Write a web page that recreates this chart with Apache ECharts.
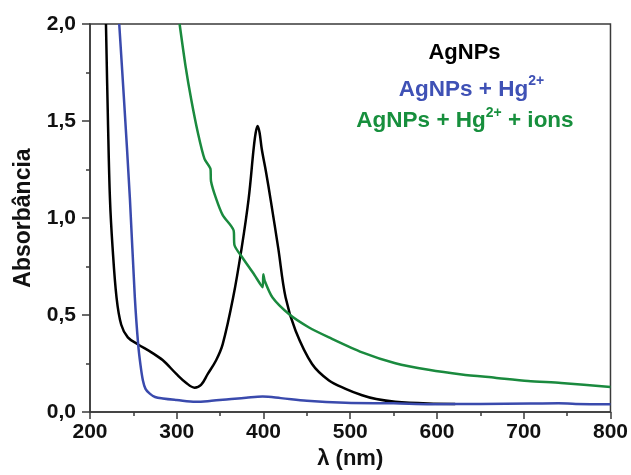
<!DOCTYPE html>
<html>
<head>
<meta charset="utf-8">
<script src="https://cdn.jsdelivr.net/npm/echarts@6/dist/echarts.min.js"></script>
<style>
html,body{margin:0;padding:0;background:#fff;}
#chart{width:631px;height:475px;}
</style>
</head>
<body>
<div id="chart"></div>
<script>
// Wavelength (nm) and absorbance readings
var agWl  = [218.4, 220.7, 223, 226, 230.6, 236, 243.6, 255, 270.8, 284, 299.5, 311, 320.5, 328, 335.8, 345.4, 353, 365, 374.8, 382.9, 388.6, 391, 393.2, 395.5, 398, 403, 408.4, 417, 425.5, 437, 456, 475.5, 494.6, 513.7, 530, 552, 590, 621];
var agAbs = [2.0, 1.5, 1.10, 0.85, 0.59, 0.45, 0.385, 0.35, 0.308, 0.267, 0.197, 0.15, 0.126, 0.14, 0.197, 0.267, 0.35, 0.59, 0.845, 1.10, 1.356, 1.44, 1.475, 1.44, 1.356, 1.235, 1.09, 0.845, 0.59, 0.419, 0.248, 0.163, 0.12, 0.087, 0.067, 0.053, 0.044, 0.042];

var hgWl  = [233.7, 239.2, 246, 251.7, 255.5, 258, 261, 264, 268.9, 275, 284, 300, 322, 340, 360, 380, 399, 420, 450, 494.5, 550, 594, 650, 708, 740, 760, 800];
var hgAbs = [2.0, 1.61, 1.10, 0.59, 0.35, 0.25, 0.163, 0.12, 0.095, 0.078, 0.07, 0.062, 0.053, 0.058, 0.066, 0.074, 0.08, 0.072, 0.058, 0.048, 0.045, 0.041, 0.042, 0.044, 0.046, 0.042, 0.041];

var ionWl  = [303.3, 310.2, 316.7, 324.3, 332, 338.9, 339.5, 345.4, 353, 365.5, 366.6, 376, 389.4, 399, 399.8, 401.5, 410.4, 429.6, 452.5, 475.5, 513.7, 552, 590.3, 628.5, 666.8, 705, 743, 800];
var ionAbs = [2.0, 1.781, 1.611, 1.441, 1.305, 1.253, 1.19, 1.10, 1.015, 0.937, 0.86, 0.794, 0.708, 0.644, 0.71, 0.675, 0.59, 0.504, 0.436, 0.385, 0.308, 0.252, 0.218, 0.194, 0.177, 0.160, 0.150, 0.129];

var xTicks = [200, 300, 400, 500, 600, 700, 800];
var yTicks = [0.0, 0.5, 1.0, 1.5, 2.0];

var seriesNames = ['AgNPs', 'AgNPs + Hg2+', 'AgNPs + Hg2+ + ions'];

function pairs(xs, ys) { return xs.map(function (x, i) { return [x, ys[i]]; }); }

var FONT = '"Liberation Sans", Arial, Helvetica, sans-serif';
var BLACK = '#000000', BLUE = '#3a4aad', GREEN = '#1a8a3e';
var BLUE_T = '#3f51b5', GREEN_T = '#178f3d';

var chart = echarts.init(document.getElementById('chart'), null, {renderer: 'canvas'});
chart.setOption({
  animation: false,
  backgroundColor: '#ffffff',
  grid: {left: 90, right: 18.5, top: 24, bottom: 59.5, show: true, borderColor: '#3a3a3a', borderWidth: 1.5, backgroundColor: 'transparent'},
  xAxis: {
    type: 'value', min: xTicks[0], max: xTicks[xTicks.length - 1], interval: 100,
    name: 'λ (nm)', nameLocation: 'middle', nameGap: 34,
    nameTextStyle: {fontFamily: FONT, fontWeight: 'bold', fontSize: 22, color: '#111'},
    axisLine: {show: true, lineStyle: {color: '#3a3a3a', width: 1.5}},
    axisTick: {show: true, inside: false, length: 7, lineStyle: {color: '#3a3a3a', width: 1.5}},
    minorTick: {show: true, splitNumber: 2, length: 4, lineStyle: {color: '#3a3a3a', width: 1.5}},
    splitLine: {show: false},
    axisLabel: {fontFamily: FONT, fontWeight: 'bold', fontSize: 21, color: '#111', margin: 10}
  },
  yAxis: {
    type: 'value', min: yTicks[0], max: yTicks[yTicks.length - 1], interval: 0.5,
    name: 'Absorbância', nameLocation: 'middle', nameGap: 55,
    nameTextStyle: {fontFamily: FONT, fontWeight: 'bold', fontSize: 23, color: '#111'},
    axisLine: {show: true, lineStyle: {color: '#3a3a3a', width: 1.5}},
    axisTick: {show: true, inside: false, length: 8, lineStyle: {color: '#3a3a3a', width: 1.5}},
    minorTick: {show: true, splitNumber: 2, length: 4, lineStyle: {color: '#3a3a3a', width: 1.5}},
    splitLine: {show: false},
    axisLabel: {fontFamily: FONT, fontWeight: 'bold', fontSize: 21, color: '#111', margin: 14,
      formatter: function (v) { return v.toFixed(1).replace('.', ','); }}
  },
  series: [
    {name: seriesNames[0], type: 'line', data: pairs(agWl, agAbs), showSymbol: false, smooth: 0.35,
     lineStyle: {color: BLACK, width: 2.5}, itemStyle: {color: BLACK}, clip: true, z: 2},
    {name: seriesNames[1], type: 'line', data: pairs(hgWl, hgAbs), showSymbol: false, smooth: 0.35,
     lineStyle: {color: BLUE, width: 2.5}, itemStyle: {color: BLUE}, clip: true, z: 3},
    {name: seriesNames[2], type: 'line', data: pairs(ionWl, ionAbs), showSymbol: false, smooth: 0.25,
     lineStyle: {color: GREEN, width: 2.5}, itemStyle: {color: GREEN}, clip: true, z: 4}
  ],
  graphic: [
    {type: 'text', z: 10, style: {x: 464.5, y: 53, text: 'AgNPs', align: 'center', verticalAlign: 'middle',
      fill: BLACK, font: 'bold 22px ' + FONT}},
    {type: 'text', z: 10, style: {x: 471.5, y: 89.5, text: '{m|AgNPs + Hg}{s|2+}', align: 'center', verticalAlign: 'middle',
      rich: {
        m: {fill: BLUE_T, fontFamily: FONT, fontWeight: 'bold', fontSize: 22.5, lineHeight: 22},
        s: {fill: BLUE_T, fontFamily: FONT, fontWeight: 'bold', fontSize: 14, lineHeight: 14, padding: [0, 0, 16, 0]}
      }}},
    {type: 'text', z: 10, style: {x: 465, y: 121, text: '{m|AgNPs + Hg}{s|2+}{m| + ions}', align: 'center', verticalAlign: 'middle',
      rich: {
        m: {fill: GREEN_T, fontFamily: FONT, fontWeight: 'bold', fontSize: 22.5, lineHeight: 22},
        s: {fill: GREEN_T, fontFamily: FONT, fontWeight: 'bold', fontSize: 14, lineHeight: 14, padding: [0, 0, 16, 0]}
      }}}
  ]
});
</script>
</body>
</html>
